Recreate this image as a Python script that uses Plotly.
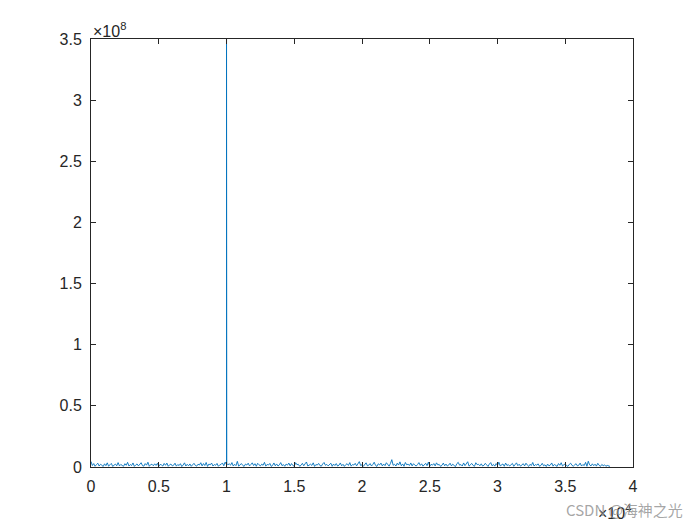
import plotly.graph_objects as go

# spectrum magnitude, one sample per 100 Hz, in units of 1e6 (peak bins listed separately)
freq_step = 100
noise_e6 = [
    4.5, 1.2, 2.8, 0.6, 1.9, 3.1, 0.8, 2.2, 1.5, 0.4, 2.6, 1.1, 3.4, 0.7, 1.8, 2.9, 0.5, 1.6, 2.4, 1.0, 3.6, 0.9, 2.1, 1.3,
    0.6, 2.7, 1.4, 3.8, 0.8, 2.0, 1.2, 3.3, 0.5, 1.7, 2.5, 0.9, 2.2, 3.5, 1.1, 0.7, 2.8, 1.5, 3.9, 0.6, 1.9, 2.3, 1.0, 2.6,
    1.3, 3.0, 0.5, 2.1, 1.7, 0.8, 2.9, 1.4, 3.2, 0.6, 1.8, 2.4, 0.9, 1.5, 3.1, 0.7, 2.0, 1.2, 2.7, 0.4, 1.6, 3.4, 0.8, 2.2,
    1.0, 2.5, 0.6, 1.9, 3.0, 1.3, 0.7, 2.3, 1.6, 3.5, 0.9, 2.8, 1.2, 3.7, 0.5, 2.4, 1.8, 3.2, 0.8, 2.0, 1.4, 2.9, 0.6, 1.7,
    2.1, 3.3, 1.0, 4.0, 2.0, 1.8, 2.6, 1.5, 3.6, 0.8, 2.2, 1.1, 4.6, 0.7, 1.9, 2.8, 1.3, 0.5, 2.4, 1.6, 3.1, 0.9, 2.0, 3.4,
    1.2, 2.7, 0.6, 3.0, 1.8, 0.9, 2.3, 1.4, 3.8, 0.7, 2.1, 1.6, 2.9, 0.5, 1.3, 3.3, 1.0, 2.5, 0.8, 1.7, 3.6, 1.1, 2.0, 0.6,
    2.4, 1.5, 3.2, 0.9, 2.8, 1.2, 0.7, 3.5, 1.9, 2.2, 0.6, 1.4, 3.0, 1.0, 2.6, 4.1, 0.8, 1.8, 2.3, 1.3, 3.4, 0.5, 2.0, 1.6,
    2.9, 1.1, 0.7, 2.5, 3.7, 1.4, 2.1, 0.9, 1.7, 3.1, 0.6, 2.4, 1.2, 2.8, 0.8, 1.5, 3.3, 1.0, 2.2, 0.5, 1.9, 2.7, 1.3, 3.6,
    0.7, 2.0, 1.6, 3.0, 0.9, 2.5, 4.4, 1.2, 1.8, 0.6, 2.3, 3.4, 1.0, 1.5, 2.8, 0.8, 2.1, 3.9, 1.3, 0.5, 2.6, 1.7, 3.2, 0.9,
    2.4, 1.1, 3.5, 1.9, 0.7, 2.9, 6.0, 1.4, 2.2, 0.8, 3.1, 1.6, 4.2, 1.0, 2.5, 0.6, 3.7, 1.8, 2.3, 1.2, 3.3, 0.9, 2.7, 1.5,
    0.8, 2.0, 3.6, 1.3, 2.6, 0.7, 1.9, 3.0, 1.1, 4.0, 0.6, 2.2, 1.5, 2.8, 0.9, 3.4, 1.7, 2.1, 0.5, 1.4, 3.2, 1.0, 2.4, 0.8,
    1.6, 3.1, 0.9, 2.3, 1.2, 0.4, 2.7, 3.8, 1.5, 2.0, 0.8, 3.3, 1.1, 2.5, 4.3, 0.7, 1.8, 2.9, 1.3, 0.6, 3.5, 1.9, 2.2, 1.0,
    2.6, 0.8, 1.4, 3.0, 1.7, 0.5, 2.4, 3.6, 1.0, 2.1, 0.7, 2.8, 1.3, 3.9, 0.9, 1.6, 2.5, 0.6, 3.2, 1.2, 2.0, 0.8, 1.5, 2.9,
    0.6, 1.9, 3.4, 1.1, 2.3, 0.7, 1.4, 2.7, 0.9, 3.1, 1.6, 0.5, 2.2, 1.2, 3.7, 0.8, 2.0, 1.5, 2.6, 0.6, 1.3, 3.0, 1.0, 1.8,
    0.4, 2.4, 0.9, 1.6, 3.3, 0.7, 2.1, 1.2, 0.5, 2.8, 1.4, 3.5, 0.8, 1.9, 2.5, 1.0, 0.6, 2.2, 3.1, 1.3, 0.7, 1.8, 2.7, 0.9,
    1.5, 3.2, 0.8, 2.0, 1.2, 3.8, 0.6, 4.7, 1.7, 0.9, 2.6, 1.1, 2.3, 0.7, 3.0, 1.4, 0.5, 2.1, 1.0, 1.8, 0.6, 1.3, 0.8, 0.5,
]
# fine bins around the 10 kHz tone
peak_freq = [9990, 10000, 10010, 10020]
peak_e6 = [2.5, 420.0, 98.0, 3.0]

points = sorted([(i * freq_step, v) for i, v in enumerate(noise_e6)] + list(zip(peak_freq, peak_e6)))
freq = [p[0] for p in points]
mag = [p[1] * 1e6 for p in points]

x_ticks = [0, 0.5, 1, 1.5, 2, 2.5, 3, 3.5, 4]
y_ticks = [0, 0.5, 1, 1.5, 2, 2.5, 3, 3.5]

font = dict(family="Liberation Sans, Arial, sans-serif", size=16, color="#262626")

fig = go.Figure()
fig.add_trace(go.Scatter(x=freq, y=mag, mode="lines",
                         line=dict(color="#0072BD", width=0.9), showlegend=False))

axis = dict(showgrid=False, zeroline=False, showline=True, linecolor="#262626", linewidth=1,
            mirror="ticks", ticks="inside", ticklen=5, tickcolor="#262626", tickfont=font,
            ticklabelstandoff=5)
fig.update_xaxes(range=[0, 4e4], tickvals=[t * 1e4 for t in x_ticks],
                 ticktext=[f"{t:g}" for t in x_ticks], **axis)
fig.update_yaxes(range=[0, 3.5e8], tickvals=[t * 1e8 for t in y_ticks],
                 ticktext=[f"{t:g}" for t in y_ticks], **axis)

fig.add_annotation(text="\u00d710<sup>8</sup>", xref="paper", yref="paper", x=0, y=1,
                   xanchor="left", yanchor="bottom", showarrow=False, font=dict(font, size=16), yshift=-3)
fig.add_annotation(text="\u00d710<sup>4</sup>", xref="paper", yref="paper", x=1, y=0,
                   xanchor="right", yanchor="top", showarrow=False, font=dict(font, size=16), yshift=-33)
fig.add_annotation(text="CSDN @海神之光", xref="paper", yref="paper", x=1.096, y=0,
                   xanchor="right", yanchor="top", showarrow=False, yshift=-30,
                   font=dict(family="Noto Sans CJK SC, sans-serif", size=15, color="rgba(150,150,150,0.85)"))

# page body adds an 8 px offset, so margins are trimmed to land the axes where the reference has them
fig.update_layout(width=700, height=525, plot_bgcolor="white", paper_bgcolor="white",
                  margin=dict(l=83, r=75, t=31, b=66, autoexpand=False), font=font)
fig.write_html("out.html")
